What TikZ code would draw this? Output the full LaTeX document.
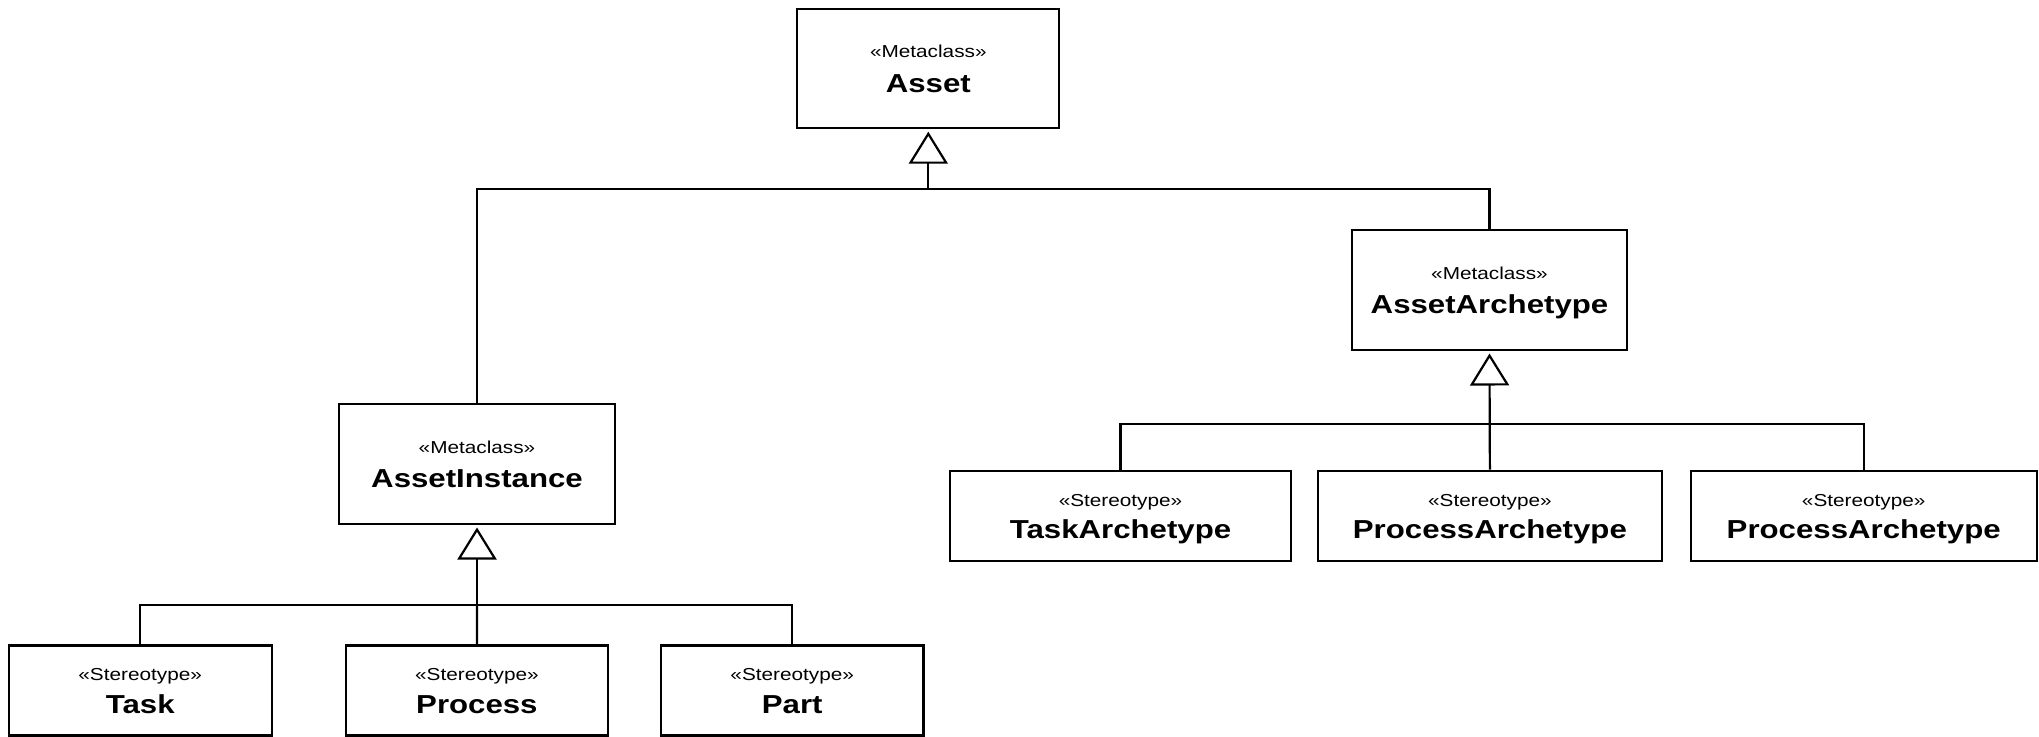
\documentclass[tikz,border=0pt]{standalone}
\usepackage{fontspec}
\setmainfont{Liberation Sans}
\newfontfamily\stfont[FakeStretch=1.2]{Liberation Sans}
\usetikzlibrary{arrows.meta}
\tikzset{
  clsbox/.style={draw=black, line width=1.1pt, rectangle, inner sep=0pt, fill=white},
  sttext/.style={font=\stfont\fontsize{8.65pt}{10pt}\selectfont, anchor=base, inner sep=0pt},
  nmtext/.style={font=\stfont\bfseries\fontsize{13pt}{15pt}\selectfont, anchor=base, inner sep=0pt},
  conn/.style={line width=1.1pt},
  gen/.style={conn, -{Triangle[open, length=16pt, width=19.5pt]}, shorten >=1.2pt},
}
% name, cx, cy, w, h, stereotype, title, stereo offset, title offset (px)
\newcommand\umlclass[9]{%
  \node[clsbox, minimum width=#4*0.5pt, minimum height=#5*0.5pt] (#1) at (#2,#3) {};
  \node[sttext] (#1-st) at (#2,{#3+#8}) {«#6»};
  \node[nmtext] (#1-nm) at (#2,{#3+#9}) {#7};
}
\begin{document}
\begin{tikzpicture}[x=0.5pt,y=-0.5pt]
\useasboundingbox (0,0) rectangle (2039,736);
\fill[white] (0,0) rectangle (2039,736);

\umlclass{asset}{928.3}{68.7}{262}{119}{Metaclass}{Asset}{-11}{24}
\umlclass{arch}{1489.5}{290}{275}{120}{Metaclass}{AssetArchetype}{-11}{23.5}
\umlclass{inst}{477}{464}{275.7}{120}{Metaclass}{AssetInstance}{-11}{23.5}

\umlclass{task}{140.2}{690.5}{263}{90}{Stereotype}{Task}{-10}{23}
\umlclass{process}{476.9}{690.5}{261.7}{90}{Stereotype}{Process}{-10}{23}
\umlclass{part}{792.2}{690.5}{262.4}{90}{Stereotype}{Part}{-10}{23}

\umlclass{taskA}{1120.5}{516}{341.3}{90.6}{Stereotype}{TaskArchetype}{-10}{22.5}
\umlclass{procA}{1489.9}{516}{344}{90.6}{Stereotype}{ProcessArchetype}{-10}{22.5}
\umlclass{procB}{1863.7}{516}{346}{90.6}{Stereotype}{ProcessArchetype}{-10}{22.5}

\coordinate (jA) at (928.3,189);
\draw[conn] (inst.north) |- (jA) -| (arch.north);
\draw[gen] (jA) -- (asset.south);

\coordinate (jI) at (477,605);
\draw[conn] (task.north) |- (jI) -| (part.north);
\draw[conn] (process.north) -- (jI);
\draw[gen] (jI) -- (inst.south);

\coordinate (jR) at (1489.7,424);
\draw[conn] (taskA.north) |- (jR) -| (procB.north);
\draw[conn] (procA.north) -- (jR);
\draw[gen] (jR) -- (arch.south);
\end{tikzpicture}
\end{document}
